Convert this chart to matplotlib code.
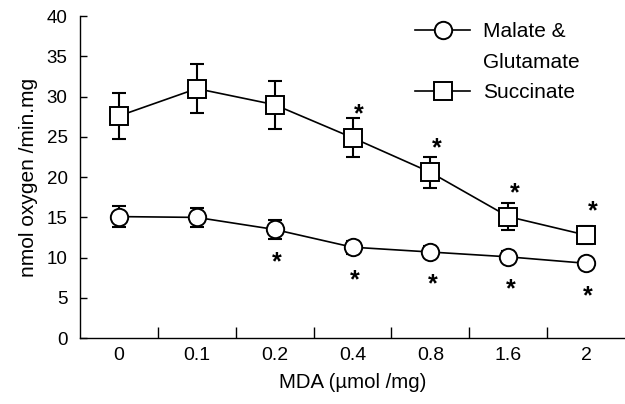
import matplotlib
matplotlib.use("Agg")
import matplotlib.pyplot as plt
from matplotlib.lines import Line2D

plt.rcParams['font.family'] = ['Liberation Sans', 'DejaVu Sans']

doses = ['0', '0.1', '0.2', '0.4', '0.8', '1.6', '2']

malate = [15.1, 15.0, 13.5, 11.3, 10.7, 10.1, 9.3]
malate_err = [1.3, 1.2, 1.2, 0.8, 0.7, 0.7, 0.5]
malate_sig = [False, False, True, True, True, True, True]

succinate = [27.6, 31.0, 29.0, 24.9, 20.6, 15.1, 12.8]
succinate_err = [2.8, 3.0, 3.0, 2.4, 1.9, 1.7, 1.1]
succinate_sig = [False, False, False, True, True, True, True]

fig = plt.figure(figsize=(6.25, 4.04), dpi=100)
ax = fig.add_axes([0.128, 0.163, 0.872, 0.797])

x = list(range(len(doses)))

ax.errorbar(x, malate, yerr=malate_err, fmt='none', ecolor='black',
            elinewidth=1.5, capsize=5, capthick=1.5, zorder=2)
h_mal, = ax.plot(x, malate, '-', color='black', lw=1.2, marker='o', ms=12.5,
                 mfc='white', mec='black', mew=1.4, zorder=3)

ax.errorbar(x, succinate, yerr=succinate_err, fmt='none', ecolor='black',
            elinewidth=1.5, capsize=5, capthick=1.5, zorder=2)
h_suc, = ax.plot(x, succinate, '-', color='black', lw=1.2, marker='s', ms=12.5,
                 mfc='white', mec='black', mew=1.4, zorder=3)

# significance asterisks
for i, s in enumerate(succinate_sig):
    if s:
        ax.annotate('*', xy=(i, succinate[i]), xytext=(4.5, 17),
                    textcoords='offset points', ha='center', va='center',
                    fontsize=18, fontweight='bold')
for i, s in enumerate(malate_sig):
    if s:
        ax.annotate('*', xy=(i, malate[i]), xytext=(1.5, -23.5),
                    textcoords='offset points', ha='center', va='center',
                    fontsize=18, fontweight='bold')

ax.set_xlim(-0.5, len(doses) - 0.5)
ax.set_ylim(0, 40)
ax.set_yticks(range(0, 41, 5))
ax.set_xticks(x)
ax.set_xticklabels(doses)
ax.set_xticks([i + 0.5 for i in x[:-1]], minor=True)
ax.tick_params(axis='x', which='major', length=0, pad=6.5, labelsize=14)
ax.tick_params(axis='x', which='minor', direction='in', length=8, width=1)
ax.tick_params(axis='y', direction='in', length=5, width=1, pad=9, labelsize=13.5)

ax.spines['top'].set_visible(False)
ax.spines['right'].set_visible(False)
for sp in ('left', 'bottom'):
    ax.spines[sp].set_linewidth(1)

ax.set_xlabel('MDA (\u00b5mol /mg)', fontsize=14.7, labelpad=6)
ax.set_ylabel('nmol oxygen /min.mg', fontsize=15, labelpad=6)

blank = Line2D([], [], color='none')
ax.legend([h_mal, blank, h_suc], ['Malate &', 'Glutamate', 'Succinate'],
          loc='upper left', bbox_to_anchor=(415 / 625, 1 - 22 / 404),
          bbox_transform=fig.transFigure, frameon=False, borderpad=0,
          borderaxespad=0, fontsize=15, handlelength=2.64,
          handletextpad=0.62, labelspacing=0.56)

fig.savefig('out.png', dpi=100)
